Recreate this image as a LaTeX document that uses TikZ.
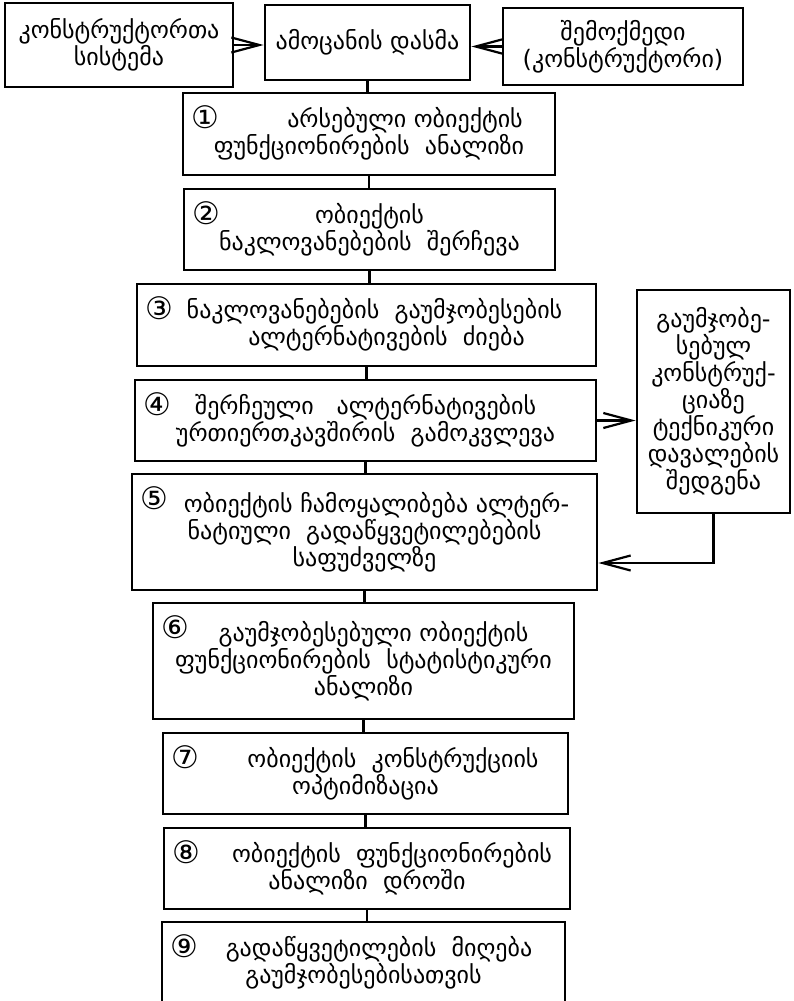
\documentclass[tikz,border=0pt]{standalone}
\usepackage{fontspec}
\setmainfont{DejaVu Sans}
\usepackage{tikz}
\usetikzlibrary{arrows.meta, positioning}
\newcommand{\geo}{\fontsize{24}{27}\selectfont}
\newcommand{\shl}[1]{\hspace*{#1}}
\tikzset{
  box/.style={rectangle, draw=black, line width=2.8pt,
              align=center, font=\geo, inner sep=2pt},
  num/.style={font=\fontsize{31}{31}\selectfont, inner sep=0pt},
  link/.style={line width=2.2pt},
  arr/.style={-{Straight Barb[length=28pt,width=15pt]}, line width=2.2pt},
}

\begin{document}
\begin{tikzpicture}[x=1pt, y=1pt]
  \useasboundingbox (0,0) rectangle (794,-1001);

  % ── Top row ────────────────────────────────────────────────────────────────
  \node[box, minimum width=228pt, minimum height=84pt] at (119,-45)   (sys)     {კონსტრუქტორთა\\სისტემა};
  \node[box, minimum width=205pt, minimum height=75pt] at (367.5,-42.5) (task)  {ამოცანის დასმა};
  \node[box, minimum width=240pt, minimum height=77pt] at (623,-46.5) (creator) {შემოქმედი\\(კონსტრუქტორი)};

  % ── Steps ──────────────────────────────────────────────────────────────────
  \node[box, minimum width=372pt, minimum height=82pt]  at (369,-134)   (b1) {\shl{72pt}არსებული ობიექტის\\ფუნქციონირების\ \ ანალიზი};
  \node[box, minimum width=371pt, minimum height=81pt]  at (369.5,-229.5) (b2) {ობიექტის\\ნაკლოვანებების\ \ შერჩევა};
  \node[box, minimum width=459pt, minimum height=82pt]  at (366.5,-325) (b3) {\shl{16pt}ნაკლოვანებების\ \ გაუმჯობესების\\\shl{40pt}ალტერნატივების\ \ ძიება};
  \node[box, minimum width=461pt, minimum height=81pt]  at (365.5,-420.5) (b4) {შერჩეული\ \ \ ალტერნატივების\\ურთიერთკავშირის\ \ გამოკვლევა};
  \node[box, minimum width=465pt, minimum height=116pt] at (364.5,-532) (b5) {\shl{24pt}ობიექტის ჩამოყალიბება ალტერ-\\ნატიული\ \ გადაწყვეტილებების\\საფუძველზე};
  \node[box, minimum width=421pt, minimum height=116pt] at (363.5,-661) (b6) {\shl{20pt}გაუმჯობესებული ობიექტის\\ფუნქციონირების\ \ სტატისტიკური\\ანალიზი};
  \node[box, minimum width=405pt, minimum height=81pt]  at (365.5,-773.5) (b7) {\shl{55pt}ობიექტის\ \ კონსტრუქციის\\ოპტიმიზაცია};
  \node[box, minimum width=406pt, minimum height=81pt]  at (367,-868.5) (b8) {\shl{50pt}ობიექტის\ \ ფუნქციონირების\\ანალიზი\ \ დროში};
  \node[box, minimum width=403pt, minimum height=82pt]  at (363.5,-963) (b9) {\shl{31pt}გადაწყვეტილების\ \ მიღება\\გაუმჯობესებისათვის};

  % ── Side box ───────────────────────────────────────────────────────────────
  \node[box, minimum width=153pt, minimum height=223pt] at (713.5,-401.5) (side) {გაუმჯობე-\\სებულ\\კონსტრუქ-\\ციაზე\\ტექნიკური\\დავალების\\შედგენა};

  % ── Step numbers ───────────────────────────────────────────────────────────
  \foreach \i/\c in {1/①, 2/②, 3/③, 4/④, 5/⑤, 6/⑥, 7/⑦, 8/⑧, 9/⑨}
    \node[num] (n\i) at ([xshift=24pt, yshift=-26pt]b\i.north west) {\c};

  % ── Connectors ─────────────────────────────────────────────────────────────
  \draw[link] (task.south) -- (task.south |- b1.north);
  \draw[link] (b1.south) -- (b1.south |- b2.north);
  \draw[link] (b2.south) -- (b2.south |- b3.north);
  \draw[link] (b3.south) -- (b3.south |- b4.north);
  \draw[link] (b4.south) -- (b4.south |- b5.north);
  \draw[link] (b5.south) -- (b5.south |- b6.north);
  \draw[link] (b6.south) -- (b6.south |- b7.north);
  \draw[link] (b7.south) -- (b7.south |- b8.north);
  \draw[link] (b8.south) -- (b8.south |- b9.north);

  \draw[arr] (sys.east) -- (sys.east -| task.west);
  \draw[arr] (creator.west) -- (creator.west -| task.east);
  \draw[arr] (b4.east) -- (b4.east -| side.west);
  \draw[arr] (side.south) |- ([yshift=-31pt]b5.east);
\end{tikzpicture}
\end{document}
